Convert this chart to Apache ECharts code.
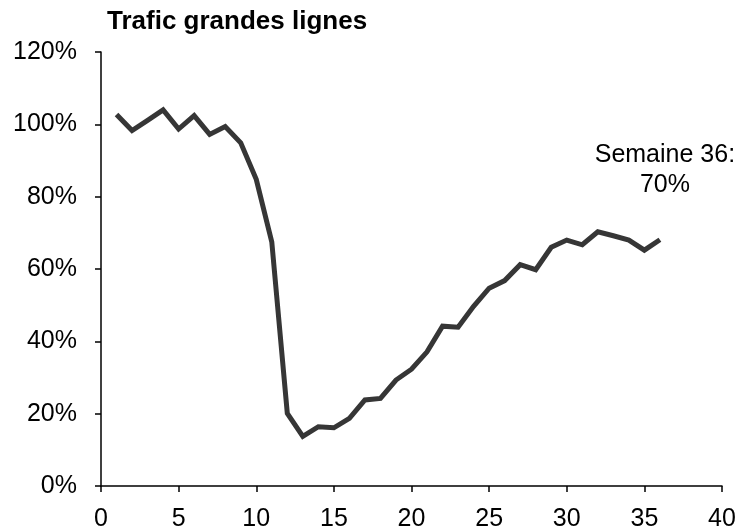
<!DOCTYPE html>
<html>
<head>
<meta charset="utf-8">
<script src="https://cdn.jsdelivr.net/npm/echarts@6/dist/echarts.min.js"></script>
<style>
  html, body { margin: 0; padding: 0; background: #fff; }
  #chart { width: 744px; height: 532px; }
</style>
</head>
<body>
<div id="chart"></div>
<script>
// weekly long-distance traffic, % of normal
const weeks = [1, 2, 3, 4, 5, 6, 7, 8, 9, 10, 11, 12, 13, 14, 15, 16, 17, 18,
  19, 20, 21, 22, 23, 24, 25, 26, 27, 28, 29, 30, 31, 32, 33, 34, 35, 36]
const traffic = [102.7, 98.3, 101.1, 104.0, 98.7, 102.4, 97.2, 99.4, 94.9, 84.8, 67.5, 20.1,
  13.7, 16.4, 16.1, 18.7, 23.8, 24.2, 29.3, 32.3, 37.1, 44.2, 43.9, 49.7,
  54.7, 56.8, 61.2, 59.8, 66.0, 68.0, 66.7, 70.3, 69.2, 68.0, 65.2, 68.1]
const annotation = 'Semaine 36:\n70%'

const chart = echarts.init(document.getElementById('chart'))
const font = '"Liberation Sans", Arial, sans-serif'

const option = {
  animation: false,
  title: {
    text: 'Trafic grandes lignes',
    left: 107,
    top: 9,
    padding: 0,
    textStyle: { fontFamily: font, fontSize: 26, fontWeight: 'bold', color: '#000' }
  },
  grid: { left: 101, right: 22, top: 52, bottom: 44 },
  xAxis: {
    type: 'value',
    min: 0,
    max: 40,
    interval: 5,
    axisLine: { lineStyle: { color: '#000', width: 1.5 } },
    axisTick: { show: true, length: 6, lineStyle: { color: '#000', width: 1.5 } },
    axisLabel: { fontFamily: font, fontSize: 25, color: '#000', margin: 21 },
    splitLine: { show: false }
  },
  yAxis: {
    type: 'value',
    min: 0,
    max: 120,
    interval: 20,
    axisLine: { show: true, lineStyle: { color: '#000', width: 1.5 } },
    axisTick: { show: true, length: 6, lineStyle: { color: '#000', width: 1.5 } },
    axisLabel: { fontFamily: font, fontSize: 25, color: '#000', margin: 24, formatter: '{value}%' },
    splitLine: { show: false }
  },
  series: [{
    type: 'line',
    data: weeks.map((w, i) => [w, traffic[i]]),
    showSymbol: false,
    lineStyle: { color: '#363636', width: 5, join: 'miter' },
    markPoint: {
      symbol: 'circle',
      symbolSize: 0,
      data: [{ coord: [36, traffic[35]] }],
      label: {
        show: true,
        formatter: annotation,
        offset: [5, -70],
        align: 'center',
        fontFamily: font,
        fontSize: 25,
        lineHeight: 30,
        color: '#000'
      }
    }
  }]
}

chart.setOption(option)
</script>
</body>
</html>
